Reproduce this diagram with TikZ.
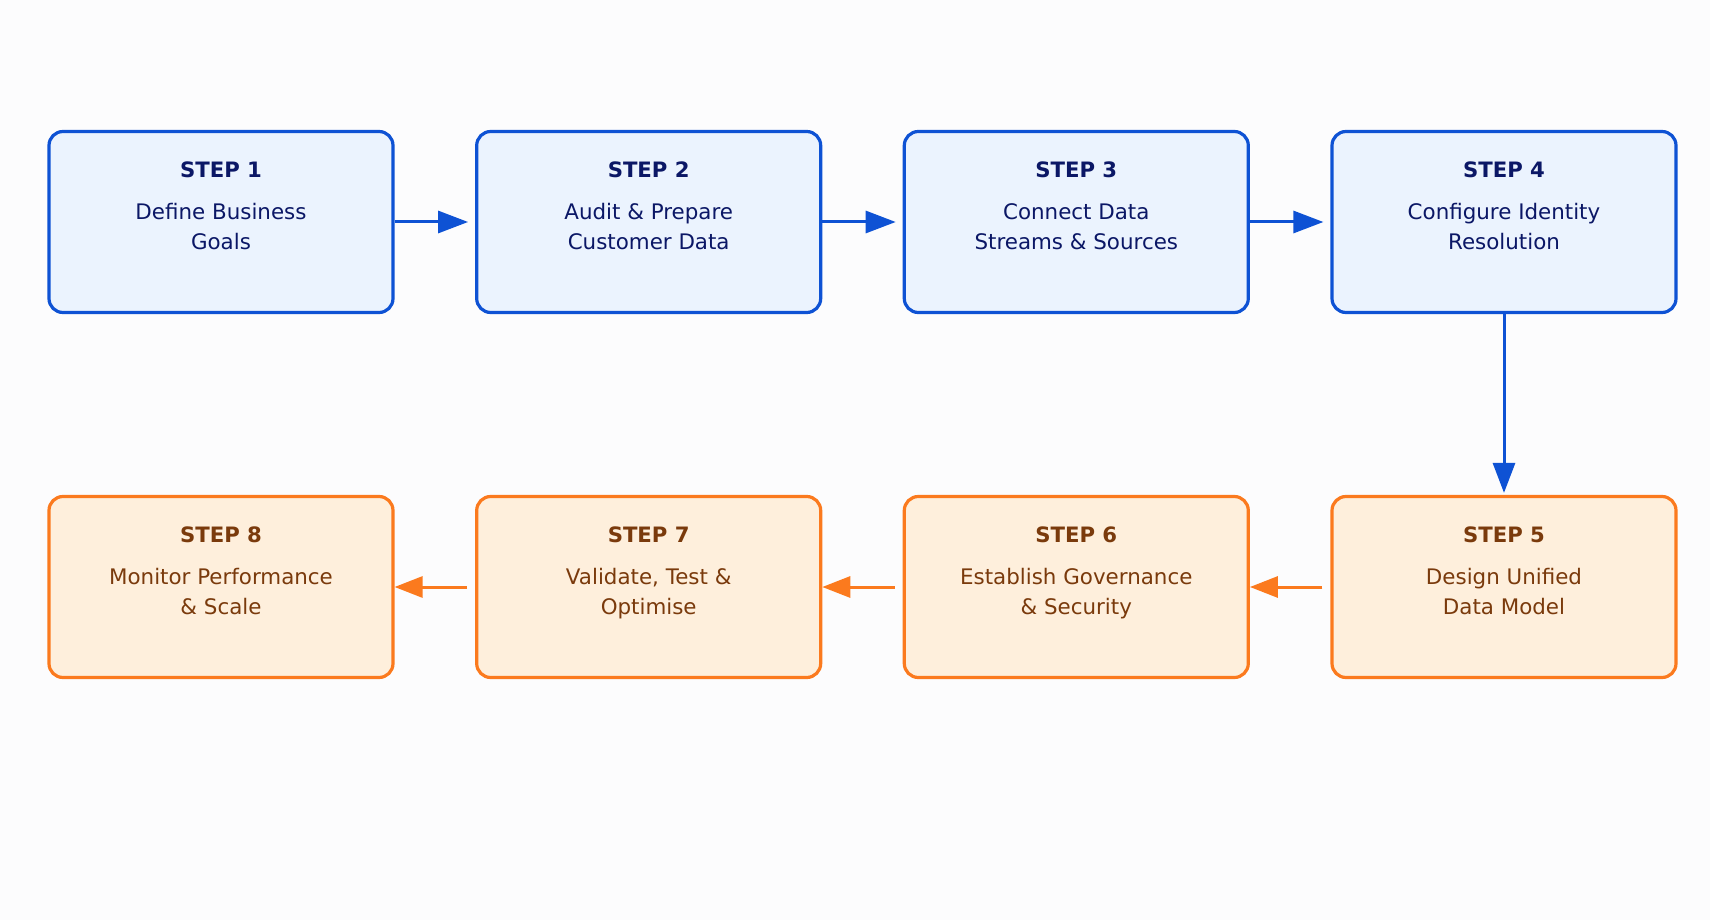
\documentclass[tikz,border=0pt]{standalone}
\usepackage{fontspec}
\setmainfont{DejaVu Sans}
\usetikzlibrary{arrows.meta}
\definecolor{bg}{HTML}{FCFCFD}
\definecolor{bluebd}{HTML}{0E52D4}
\definecolor{bluefill}{HTML}{EBF3FE}
\definecolor{bluetxt}{HTML}{0B1766}
\definecolor{orbd}{HTML}{FB7A1E}
\definecolor{orfill}{HTML}{FEEFDC}
\definecolor{ortxt}{HTML}{7A3A0C}
\tikzset{
  stepbox/.style={rectangle, rounded corners=7pt, line width=1.6pt, minimum width=172pt, minimum height=90.5pt, inner sep=0pt},
  bluebox/.style={stepbox, draw=bluebd, fill=bluefill},
  orbox/.style={stepbox, draw=orbd, fill=orfill},
  ttl/.style={font=\fontsize{10.6}{13}\selectfont\bfseries, inner sep=0pt, anchor=center},
  txt/.style={font=\fontsize{10.7}{15}\selectfont, align=center, inner sep=0pt, anchor=north},
  barrow/.style={draw=bluebd, line width=1.5pt, -{Triangle[length=15pt,width=11pt]}},
  oarrow/.style={draw=orbd, line width=1.5pt, -{Triangle[length=14pt,width=10.5pt]}}
}
\begin{document}
\begin{tikzpicture}[x=0.5pt,y=-0.5pt]
\fill[bg] (0,0) rectangle (1710,920);
\useasboundingbox (0,0) rectangle (1710,920);
% top row
\node[bluebox] (s1) at (221,222) {};
\node[bluebox] (s2) at (648.7,222) {};
\node[bluebox] (s3) at (1076.3,222) {};
\node[bluebox] (s4) at (1504,222) {};
% bottom row
\node[orbox] (s5) at (1504,587) {};
\node[orbox] (s6) at (1076.3,587) {};
\node[orbox] (s7) at (648.7,587) {};
\node[orbox] (s8) at (221,587) {};
% texts
\foreach \n/\t/\a/\b in {s1/1/Define Business/Goals, s2/2/Audit \& Prepare/Customer Data, s3/3/Connect Data/Streams \& Sources, s4/4/Configure Identity/Resolution}{
  \node[ttl, text=bluetxt] (\n t) at ([yshift=-20pt]\n.north) {STEP \t};
  \node[txt, text=bluetxt] (\n d) at ([yshift=-36.5pt]\n.north) {\a\\\b};
}
\foreach \n/\t/\a/\b in {s5/5/Design Unified/Data Model, s6/6/Establish Governance/\& Security, s7/7/{Validate, Test \&}/Optimise, s8/8/Monitor Performance/\& Scale}{
  \node[ttl, text=ortxt] (\n t) at ([yshift=-20pt]\n.north) {STEP \t};
  \node[txt, text=ortxt] (\n d) at ([yshift=-36.5pt]\n.north) {\a\\\b};
}
% connectors
\draw[barrow, shorten >=3.5pt] (s1.east) -- (s2.west);
\draw[barrow, shorten >=3.5pt] (s2.east) -- (s3.west);
\draw[barrow, shorten >=3.5pt] (s3.east) -- (s4.west);
\draw[barrow, shorten >=1pt] (s4.south) -- (s5.north);
\draw[oarrow, shorten <=4pt] (s5.west) -- (s6.east);
\draw[oarrow, shorten <=4pt] (s6.west) -- (s7.east);
\draw[oarrow, shorten <=4pt] (s7.west) -- (s8.east);
\end{tikzpicture}
\end{document}
